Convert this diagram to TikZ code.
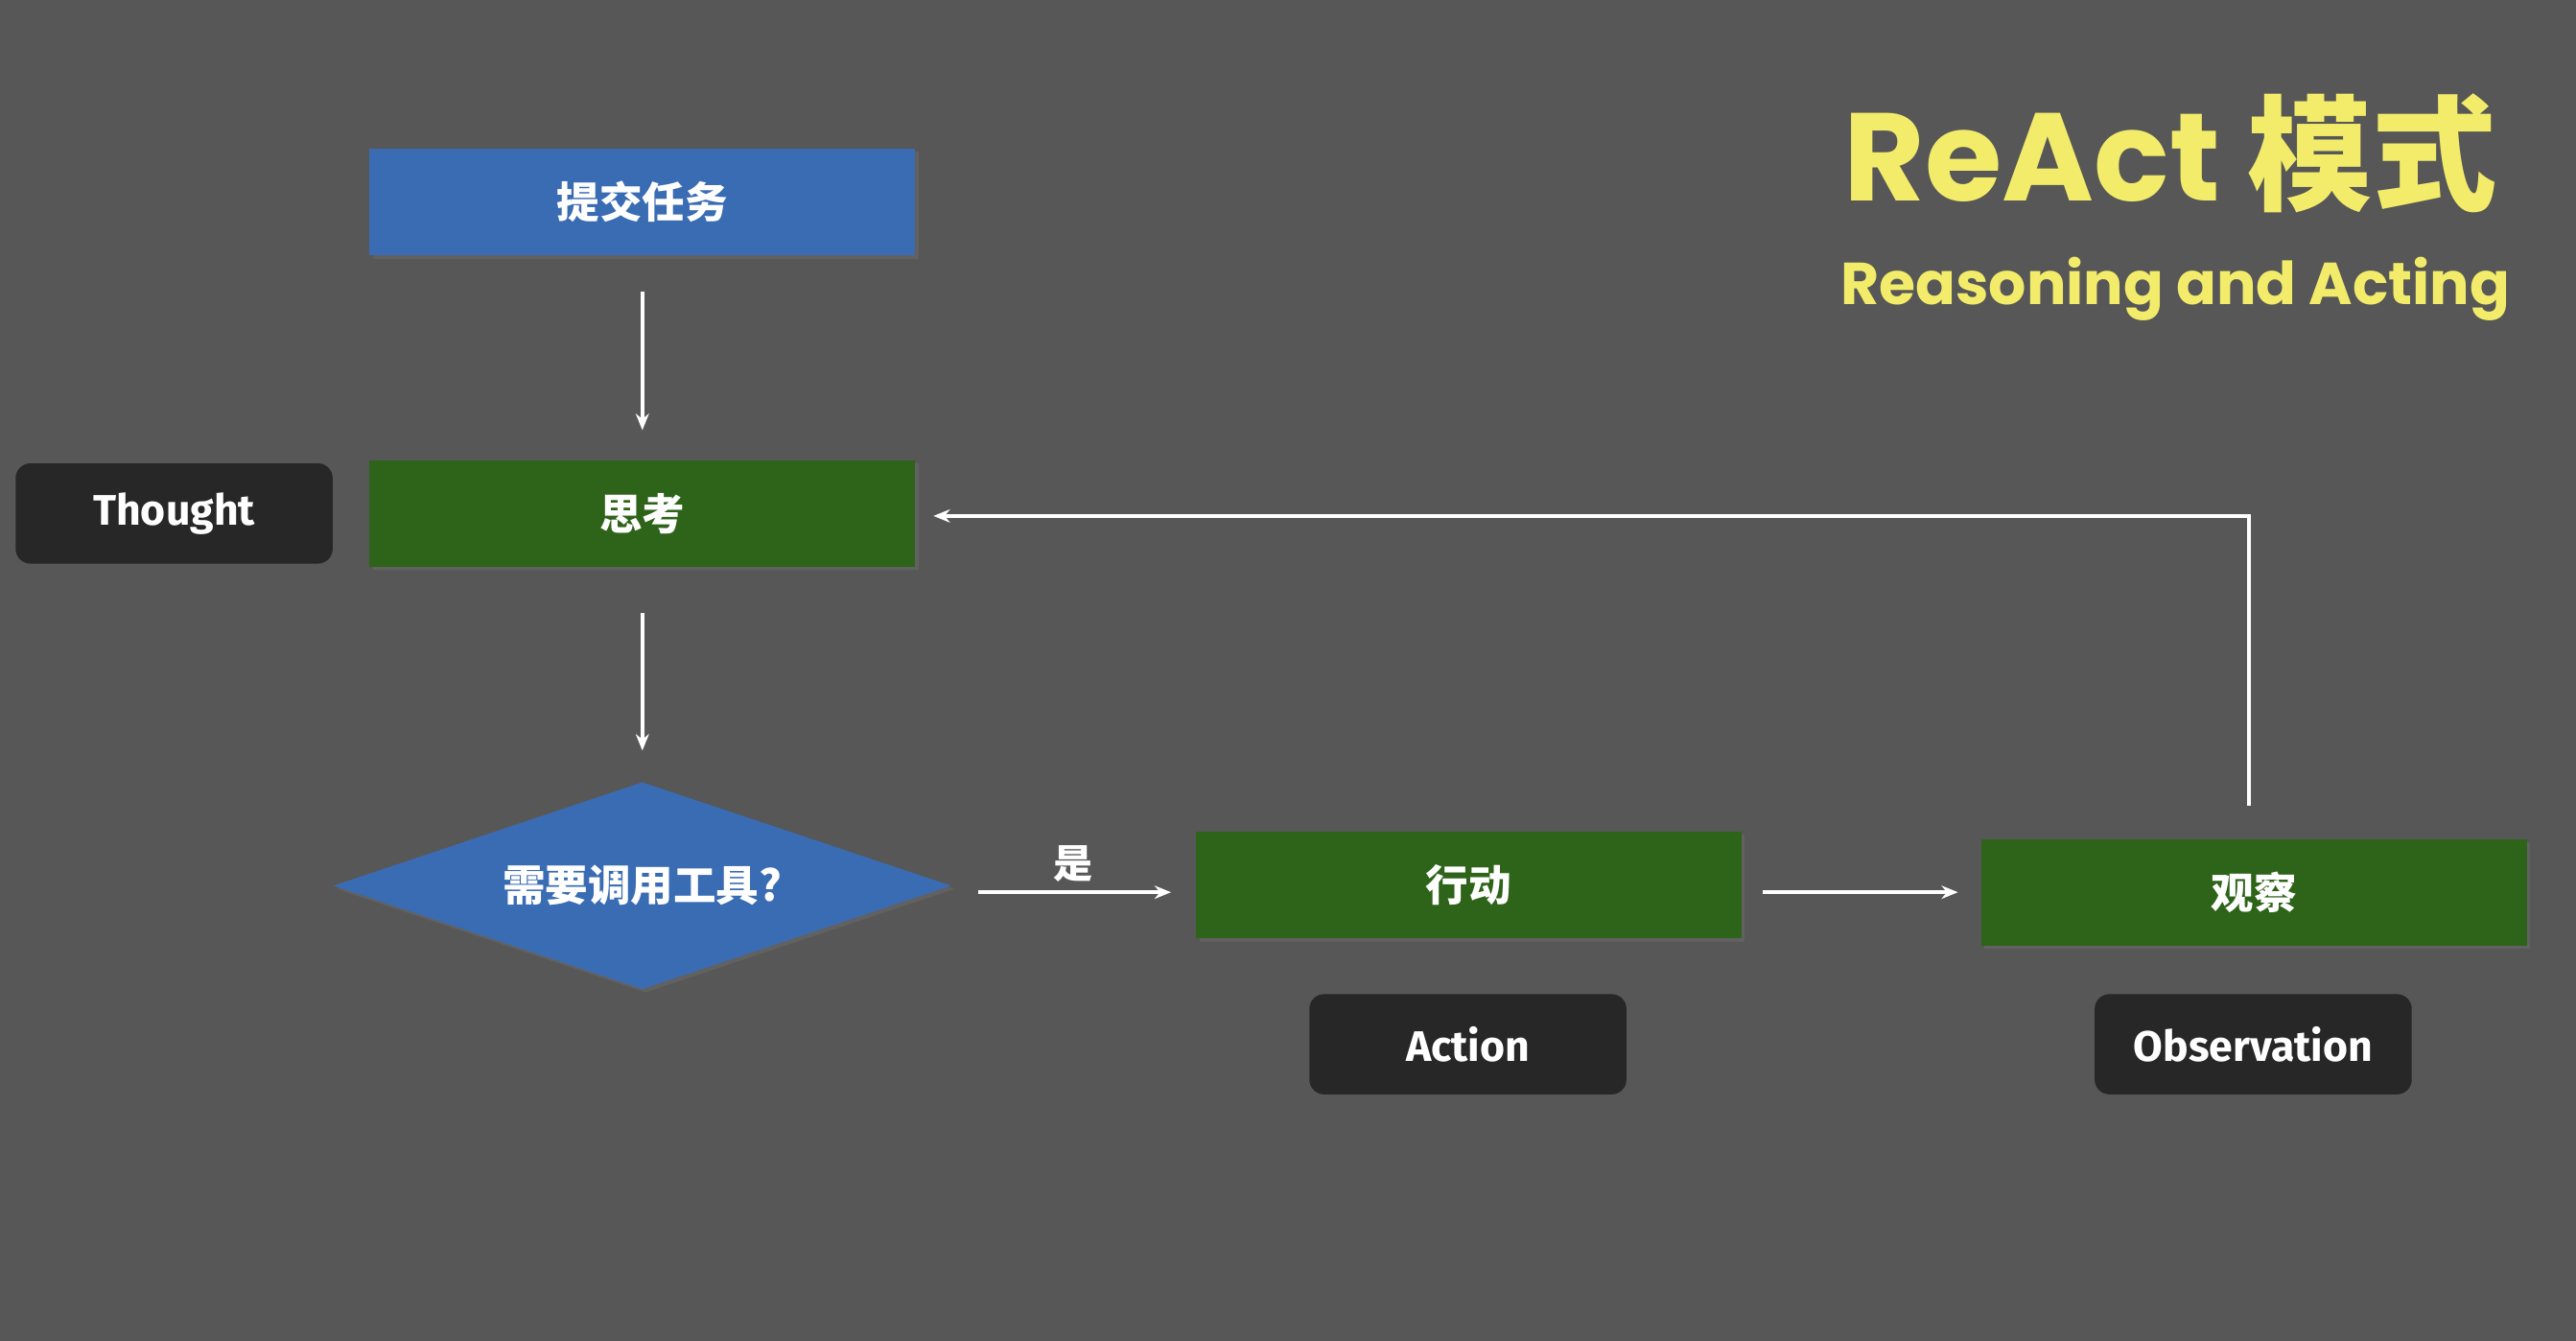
\documentclass[tikz,border=0pt]{standalone}
\usepackage{fontspec}
\setmainfont{Fira Sans}
\newfontfamily\cjk{Noto Sans CJK SC}
\usetikzlibrary{shapes.geometric,shadows,arrows.meta}
\definecolor{bg}{HTML}{575757}
\definecolor{bblue}{HTML}{3A6CB4}
\definecolor{bgreen}{HTML}{2E6419}
\definecolor{dark}{HTML}{272727}
\definecolor{ttl}{HTML}{F3EC6A}
\begin{document}
\begin{tikzpicture}[x=1pt,y=-1pt,
 box/.style={draw=none,minimum width=332pt,minimum height=65pt,inner sep=0pt,text=white,font=\cjk\bfseries\fontsize{26}{30}\selectfont,drop shadow={opacity=0.25,shadow xshift=2pt,shadow yshift=-2pt}},
 tag/.style={fill=dark,rounded corners=9pt,minimum width=193pt,minimum height=61pt,inner sep=0pt,text=white,font=\bfseries\fontsize{26}{30}\selectfont},
 arr/.style={draw=white,line width=2.2pt,-{Stealth[length=10pt,width=8pt]}}]
\fill[bg] (0,0) rectangle (1568,816);
\node[box,fill=bblue] (submit) at (391,123) {提交任务};
\node[box,fill=bgreen] (think) at (391,312.5) {思考};
\node[tag] (thought) at (106,312.5) {Thought};
\node[diamond,fill=bblue,minimum width=376pt,minimum height=126pt,aspect=3,inner sep=0pt,text=white,font=\cjk\bfseries\fontsize{26}{30}\selectfont,drop shadow={opacity=0.25,shadow xshift=2pt,shadow yshift=-2pt}] (dec) at (391,539) {需要调用工具?};
\node[box,fill=bgreen] (act) at (894,538.5) {行动};
\node[box,fill=bgreen] (obs) at (1372,543) {观察};
\node[tag] (action) at (893.5,635.5) {Action};
\node[tag] (observ) at (1371.5,635.5) {Observation};
\coordinate (corner) at (1369,314);
\draw[arr,shorten <=22pt,shorten >=18pt] (submit) -- (think);
\draw[arr,shorten <=28pt,shorten >=19pt] (think) -- (dec);
\draw[arr,shorten <=16pt,shorten >=15pt] (dec.east |- 0,543) -- node[above=2pt,text=white,font=\cjk\bfseries\fontsize{24}{28}\selectfont]{是} (act.west |- 0,543);
\draw[arr,shorten <=13pt,shorten >=14pt] (act.east |- 0,543) -- (obs.west |- 0,543);
\draw[arr,shorten <=20pt,shorten >=11pt] (obs.north -| corner) -- (corner) -- (think.east |- corner);
\node[anchor=east,text=ttl,inner sep=0pt,font=\fontspec{Poppins}\bfseries\fontsize{76}{86}\selectfont] (title) at (1520,93) {ReAct {\cjk 模式}};
\node[anchor=east,text=ttl,inner sep=0pt,font=\fontspec{Poppins}\bfseries\fontsize{36}{42}\selectfont] (sub) at (1528,176) {Reasoning and Acting};
\end{tikzpicture}
\end{document}
